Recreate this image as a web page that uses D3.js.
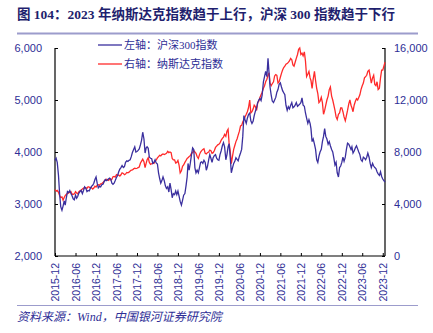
<!DOCTYPE html>
<html>
<head>
<meta charset="utf-8">
<script src="https://cdn.jsdelivr.net/npm/d3@7"></script>
<style>
	html, body { margin: 0; padding: 0; background: #fff; }
	svg { display: block; }
</style>
</head>
<body>
<div id="chart"></div>
<script>
	// 期間: 2015-12 から 2023-12 まで、各月 1日・11日・21日 の3点
	const startMonth = '2015-12';
	const pointDays = [1, 11, 21];

	// 沪深300 (左軸) — 月ごとに3点
	const csi300 = [
		3840, 3880, 3800,  3550, 3200, 2950,  2880, 2960, 3060,  2980, 3120, 3240,
		3220, 3260, 3200,  3160, 3100, 3080,  3170, 3110, 3150,  3210, 3240, 3260,
		3200, 3260, 3330,  3300, 3240, 3260,  3250, 3300, 3340,  3360, 3400, 3470,
		3520, 3400, 3310,  3340, 3330, 3370,  3380, 3430, 3470,  3450, 3460, 3480,
		3500, 3480, 3400,  3380, 3400, 3450,  3510, 3550, 3620,  3670, 3700, 3740,
		3700, 3720, 3800,  3830, 3820, 3840,  3850, 3910, 3990,  4050, 4100, 4000,
		4010, 4030, 4060,  4140, 4230, 4380,  4250, 3980, 4080,  4100, 4070, 3900,
		3880, 3870, 3780,  3800, 3850, 3790,  3770, 3600, 3490,  3400, 3450, 3520,
		3450, 3350, 3300,  3330, 3230, 3400,  3280, 3120, 3200,  3180, 3250, 3180,
		3250, 3150, 3050,  2980, 3070, 3170,  3200, 3350, 3520,  3780, 3650, 3780,
		3950, 4080, 4050,  3700, 3600, 3650,  3600, 3700, 3800,  3810, 3780, 3840,
		3800, 3650, 3720,  3850, 3950, 3880,  3800, 3890, 3930,  3950, 3880, 3850,
		3840, 3950, 4020,  4120, 4180, 4100,  3850, 3950, 4100,  4160, 3900, 3600,
		3700, 3780, 3820,  3890, 3860, 3830,  3920, 3980, 4050,  4300, 4700, 4620,
		4550, 4650, 4720,  4750, 4600, 4550,  4590, 4700, 4780,  4850, 4950, 5000,
		5030, 4990, 5100,  5350, 5450, 5550,  5450, 5800, 5500,  5250, 5100, 4980,
		4950, 5000, 5050,  5150, 5200, 5300,  5330, 5250, 5180,  5140, 5100, 4900,
		4800, 4870, 4830,  4900, 4950, 4850,  4870, 4900, 4950,  4880, 4900, 4920,
		4950, 5040, 4900,  4880, 4750, 4650,  4550, 4620, 4550,  4450, 4200, 4250,
		4150, 4050, 3850,  3800, 3920, 4000,  4050, 4200, 4300,  4450, 4300, 4250,
		4150, 4200, 4120,  4050, 4000, 3880,  3750, 3800, 3600,  3520, 3700, 3730,
		3800, 3900, 3820,  3900, 4050, 4170,  4150, 4100, 4050,  4100, 3980, 4020,
		4080, 4120, 4060,  4000, 3950, 3850,  3820, 3900, 3880,  3850, 3900, 3980,
		3900, 3780, 3700,  3780, 3730, 3700,  3680, 3620, 3580,  3550, 3620, 3530,
		3480, 3450, 3420
	];

	// 纳斯达克指数 (右軸) — 月ごとに3点
	const nasdaq = [
		5100, 5000, 5050,  4900, 4650, 4500,  4550, 4300, 4500,  4650, 4750, 4800,
		4850, 4900, 4950,  4750, 4750, 4770,  4950, 4850, 4780,  4950, 5020, 5080,
		5150, 5220, 5240,  5250, 5200, 5330,  5300, 5250, 5260,  5150, 5230, 5370,
		5300, 5440, 5480,  5450, 5550, 5560,  5650, 5750, 5850,  5900, 5880, 5820,
		5900, 5850, 5900,  6100, 6120, 6070,  6250, 6200, 6230,  6150, 6250, 6400,
		6350, 6250, 6300,  6430, 6400, 6450,  6530, 6600, 6620,  6700, 6750, 6720,
		6750, 6800, 6850,  7150, 7300, 7450,  7250, 6800, 7150,  7400, 7550, 7200,
		7050, 7100, 7150,  7120, 7300, 7380,  7550, 7650, 7750,  7700, 7800, 7850,
		7800, 7850, 7900,  8050, 7950, 8000,  7950, 7500, 7400,  7400, 7150, 7200,
		7350, 7000, 6400,  6550, 6900, 7000,  7200, 7350, 7500,  7550, 7650, 7700,
		7900, 7950, 8100,  8000, 7900, 7650,  7500, 7800, 8000,  8100, 8200, 8250,
		7900, 7850, 7950,  8000, 8150, 8100,  7900, 7950, 8100,  8350, 8450, 8550,
		8600, 8700, 8900,  9050, 9150, 9350,  9200, 9600, 9750,  8700, 8100, 7100,
		7700, 8200, 8500,  8800, 9000, 9300,  9600, 10000, 10050,  10300, 10500, 10700,
		10900, 11100, 11400,  12000, 11000, 11100,  11300, 11600, 11500,  11200, 11800, 11900,
		12200, 12400, 12600,  12900, 13100, 13400,  13600, 13900, 14100,  13300, 13100, 13250,
		13400, 13850, 13950,  13900, 13300, 13400,  13750, 14050, 14300,  14500, 14600, 14750,
		14800, 14900, 15000,  15200, 15100, 14700,  14600, 14900, 15200,  15500, 15900, 16000,
		15500, 15600, 15400,  15700, 15000, 13800,  14000, 14200, 13700,  13500, 12900, 13600,
		14200, 13500, 12900,  12500, 11800, 11900,  12200, 11800, 10900,  11200, 11600, 12000,
		12300, 12800, 13000,  12300, 12000, 11600,  11200, 10700, 10500,  10900, 11000, 11400,
		11400, 11100, 10700,  10400, 10800, 11200,  11700, 12000, 11600,  11400, 11100, 11600,
		11900, 12100, 12000,  12200, 12400, 12800,  13100, 13300, 13700,  13800, 13900, 14200,
		14300, 13800, 13300,  13700, 13900, 13200,  13100, 13400, 12800,  12900, 13700, 14300,
		14300, 14600, 14900
	];

	// 軸の目盛り
	const leftTicks = [2000, 3000, 4000, 5000, 6000];
	const rightTicks = [0, 4000, 8000, 12000, 16000];
	const xTickLabels = ['2015-12', '2016-06', '2016-12', '2017-06', '2017-12', '2018-06',
		'2018-12', '2019-06', '2019-12', '2020-06', '2020-12', '2021-06', '2021-12',
		'2022-06', '2022-12', '2023-06', '2023-12'];

	const seriesNames = ['左轴：沪深300指数', '右轴：纳斯达克指数'];
	const titleText = '图 104：2023 年纳斯达克指数趋于上行，沪深 300 指数趋于下行';
	const sourceText = '资料来源：Wind，中国银河证券研究院';

	const W = 433, H = 333;
	const plot = { left: 55, right: 385, top: 48, bottom: 256 };
	const navy = '#2e2e96';
	const blue = '#3a2f9e';
	const red = '#ff2a2a';
	const rule = '#9c9ccc';
	const serif = '"Liberation Serif", "Times New Roman", "Noto Sans CJK SC", serif';

	// 日付を作る (各月の1日・11日・21日)
	const parseMonth = d3.timeParse('%Y-%m');
	const month0 = parseMonth(startMonth);
	const dates = [];
	for (let m = 0; m < csi300.length / pointDays.length; m++) {
		const base = d3.timeMonth.offset(month0, m);
		pointDays.forEach(day => dates.push(new Date(base.getFullYear(), base.getMonth(), day)));
	}

	const svg = d3.select('#chart').append('svg')
		.attr('width', W)
		.attr('height', H)
		.style('font-family', serif);

	// タイトル
	svg.append('text')
		.attr('x', 17)
		.attr('y', 19)
		.style('font-size', '13.5px')
		.style('font-weight', 'bold')
		.style('fill', '#1f1f6e')
		.text(titleText);

	svg.append('line')
		.attr('x1', 17).attr('x2', 418)
		.attr('y1', 33.5).attr('y2', 33.5)
		.style('stroke', rule)
		.style('stroke-width', 2);

	// スケール
	const x = d3.scaleTime()
		.domain([dates[0], dates[dates.length - 1]])
		.range([plot.left, plot.right]);
	const yLeft = d3.scaleLinear().domain([2000, 6000]).range([plot.bottom, plot.top]);
	const yRight = d3.scaleLinear().domain([0, 16000]).range([plot.bottom, plot.top]);

	// 軸
	const fmt = d3.format(',');
	const leftAxis = svg.append('g')
		.attr('transform', `translate(${plot.left},0)`)
		.call(d3.axisRight(yLeft).tickValues(leftTicks).tickSize(3).tickFormat(''));
	leftAxis.selectAll('.tick').append('text')
		.attr('x', -13)
		.attr('dy', '0.35em')
		.attr('text-anchor', 'end')
		.style('font-size', '11px')
		.style('fill', navy)
		.text(d => fmt(d));

	const rightAxis = svg.append('g')
		.attr('transform', `translate(${plot.right},0)`)
		.call(d3.axisLeft(yRight).tickValues(rightTicks).tickSize(3).tickFormat(''));
	rightAxis.selectAll('.tick').append('text')
		.attr('x', 9)
		.attr('dy', '0.35em')
		.attr('text-anchor', 'start')
		.style('font-size', '11px')
		.style('fill', navy)
		.text(d => fmt(d));

	const xTicks = xTickLabels.map(s => parseMonth(s));
	const bottomAxis = svg.append('g')
		.attr('transform', `translate(0,${plot.bottom})`)
		.call(d3.axisTop(x).tickValues(xTicks).tickSize(3).tickFormat(''));
	bottomAxis.selectAll('.tick').append('text')
		.attr('transform', 'translate(0,7) rotate(-90)')
		.attr('dy', '0.35em')
		.attr('text-anchor', 'end')
		.style('font-size', '10.5px')
		.style('fill', navy)
		.text((d, i) => xTickLabels[i]);

	[leftAxis, rightAxis, bottomAxis].forEach(g => {
		g.select('.domain').style('stroke', '#000').style('stroke-width', 1.2);
		g.selectAll('.tick line').style('stroke', '#000');
	});
	// 軸の両端の小さな突起は不要
	leftAxis.select('.domain').attr('d', `M0,${plot.top}V${plot.bottom}`);
	rightAxis.select('.domain').attr('d', `M0,${plot.top}V${plot.bottom}`);
	bottomAxis.select('.domain').attr('d', `M${plot.left},0H${plot.right}`);

	// 折れ線
	const lineLeft = d3.line().x((d, i) => x(dates[i])).y(d => yLeft(d));
	const lineRight = d3.line().x((d, i) => x(dates[i])).y(d => yRight(d));

	svg.append('path')
		.datum(nasdaq)
		.attr('d', lineRight)
		.style('fill', 'none')
		.style('stroke', red)
		.style('stroke-width', 1.3);

	svg.append('path')
		.datum(csi300)
		.attr('d', lineLeft)
		.style('fill', 'none')
		.style('stroke', blue)
		.style('stroke-width', 1.3);

	// 凡例
	const legend = svg.append('g').attr('transform', 'translate(98,45)');
	const legendItems = legend.selectAll('.legend-item')
		.data(seriesNames)
		.enter()
		.append('g')
		.attr('class', 'legend-item')
		.attr('transform', (d, i) => `translate(0,${i * 19})`);
	legendItems.append('line')
		.attr('x1', 0).attr('x2', 24)
		.style('stroke', (d, i) => i === 0 ? blue : red)
		.style('stroke-width', 1.3);
	legendItems.append('text')
		.attr('x', 26)
		.attr('dy', '0.35em')
		.style('font-size', '11px')
		.style('fill', navy)
		.text(d => d);

	// 出典
	svg.append('line')
		.attr('x1', 17).attr('x2', 418)
		.attr('y1', 305.5).attr('y2', 305.5)
		.style('stroke', rule)
		.style('stroke-width', 1);

	svg.append('text')
		.attr('x', 17)
		.attr('y', 321)
		.style('font-size', '12px')
		.style('font-style', 'italic')
		.style('fill', navy)
		.text(sourceText);
</script>
</body>
</html>
